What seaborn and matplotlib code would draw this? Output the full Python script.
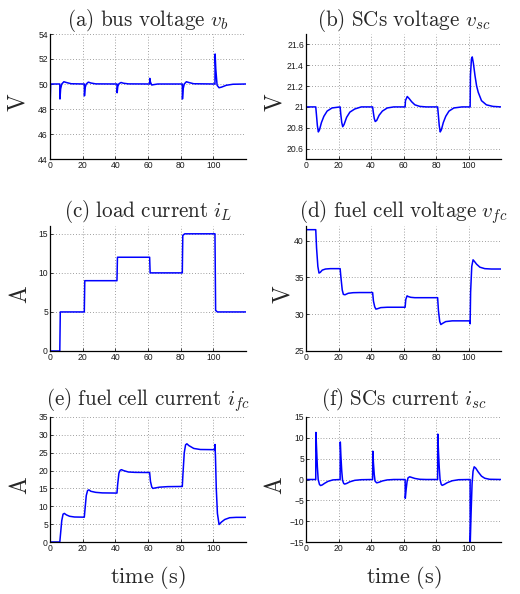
import matplotlib
matplotlib.use("Agg")
import matplotlib.pyplot as plt
import seaborn as sns
import pandas as pd

# ---------------- data ----------------
x_ticks = [0, 20, 40, 60, 80, 100]

# (a) bus voltage
t_a = [0, 0.4, 6, 6.1, 6.5, 7.2, 8.5, 10, 13, 21, 21.1, 21.5, 22.2, 23.5, 25, 28,
       41, 41.1, 41.5, 42.2, 43.5, 45, 48, 61, 61.1, 61.5, 62.3, 63.5, 66,
       81, 81.1, 81.5, 82.2, 83.5, 85, 88, 101, 101.1, 101.5, 102.3, 103.5, 105, 108, 112, 120]
v_b = [48.0, 50.0, 50.0, 48.8, 49.6, 50.0, 50.18, 50.12, 50.02, 50.0, 49.05, 49.7, 50.0, 50.15, 50.08, 50.01,
       50.0, 49.3, 49.8, 50.02, 50.12, 50.06, 50.01, 50.0, 50.45, 50.15, 49.92, 49.95, 50.0,
       50.0, 48.8, 49.6, 50.0, 50.18, 50.12, 50.02, 50.0, 52.4, 51.2, 49.9, 49.7, 49.75, 49.9, 49.98, 50.0]

# (b) SCs voltage
t_b = [0, 6, 6.4, 7.0, 7.6, 8.3, 9.5, 11, 13, 16,
       21, 21.4, 22.0, 22.6, 23.4, 25, 27, 30, 34,
       41, 41.4, 42.0, 42.6, 43.5, 45, 47, 50, 54,
       61, 61.2, 62.3, 63.5, 65, 67, 70, 74,
       81, 81.4, 82.0, 82.6, 83.3, 84.5, 86, 88, 91, 96,
       101, 101.2, 101.8, 102.3, 103, 104, 105, 106, 108, 111, 115, 120]
v_sc = [21, 21, 20.93, 20.82, 20.76, 20.78, 20.85, 20.91, 20.96, 20.99,
        21.0, 20.93, 20.85, 20.81, 20.83, 20.9, 20.95, 20.98, 21.0,
        21.0, 20.95, 20.89, 20.86, 20.87, 20.92, 20.96, 20.99, 21.0,
        21.0, 21.06, 21.1, 21.08, 21.05, 21.02, 21.005, 21.0,
        21.0, 20.93, 20.82, 20.76, 20.78, 20.85, 20.91, 20.96, 20.99, 21.0,
        21.0, 21.3, 21.46, 21.48, 21.42, 21.3, 21.2, 21.14, 21.06, 21.02, 21.005, 21.0]

# (c) load current
t_c = [0, 6, 6.3, 21, 21.3, 41, 41.3, 61, 61.3, 81, 81.3, 82.5, 101, 101.4, 102.5, 120]
i_L = [0, 0, 5, 5, 9, 9, 12, 12, 10, 10, 14.8, 15, 15, 5.2, 5, 5]

# (d) fuel cell voltage
t_d = [0, 6, 6.5, 7.3, 8.0, 8.8, 10, 12, 15,
       21, 21.5, 22.3, 23.0, 24.0, 26, 29, 33,
       41, 41.5, 42.3, 43.0, 44.0, 46, 50,
       61, 61.4, 62.2, 63.0, 64.5, 67,
       81, 81.5, 82.3, 83.0, 84.0, 86, 90,
       100.6, 101, 101.3, 102.0, 102.8, 103.6, 105, 107, 110, 114, 120]
v_fc = [41.5, 41.5, 39.0, 36.5, 35.6, 35.7, 36.0, 36.15, 36.2,
        36.2, 35.0, 33.3, 32.7, 32.65, 32.85, 32.93, 32.95,
        32.95, 31.8, 31.0, 30.7, 30.75, 30.9, 30.95,
        30.95, 32.0, 32.5, 32.4, 32.3, 32.25,
        32.25, 30.5, 29.0, 28.6, 28.75, 29.0, 29.1,
        29.1, 28.7, 33.0, 36.5, 37.4, 37.2, 36.8, 36.4, 36.2, 36.15, 36.15]

# (e) fuel cell current
t_e = [0, 6, 6.5, 7.2, 8.0, 8.8, 10, 12, 15,
       21, 21.4, 22.2, 23.0, 23.8, 25, 28, 32,
       41, 41.4, 42.2, 43.0, 43.8, 45, 48, 52,
       61, 61.5, 62.3, 63.0, 64, 67, 72,
       81, 81.4, 82.2, 83.0, 83.8, 85, 88, 92,
       100.8, 101.0, 101.3, 101.8, 102.5, 103.5, 105, 107, 110, 114, 120]
i_fc = [0, 0, 2.5, 6.0, 7.8, 8.0, 7.6, 7.2, 7.0,
        6.95, 9.0, 13.0, 14.4, 14.6, 14.2, 13.9, 13.75,
        13.7, 16.0, 19.3, 20.1, 20.25, 20.0, 19.6, 19.5,
        19.45, 17.0, 15.4, 15.0, 15.1, 15.35, 15.5,
        15.55, 19.0, 25.0, 27.2, 27.5, 27.0, 26.2, 25.9,
        25.85, 27.3, 24.0, 15.0, 8.0, 4.9, 5.6, 6.3, 6.8, 6.9, 6.9]

# (f) SCs current
t_f = [0, 0.05, 6,
       6.1, 6.5, 7.0, 7.5, 8.3, 9.0, 10.0, 11.5, 13.5, 16.5, 21,
       21.1, 21.5, 22.0, 22.5, 23.2, 23.8, 25, 27, 30, 34, 41,
       41.1, 41.5, 42.0, 42.5, 43.5, 45, 47, 50, 54, 61,
       61.1, 61.6, 62.2, 62.8, 63.8, 65, 67, 70, 74, 81,
       81.1, 81.5, 82.0, 82.5, 83.2, 83.8, 85, 87, 90, 94, 101,
       101.05, 101.6, 102.2, 102.8, 103.5, 104.5, 106, 108, 110, 113, 120]
i_sc = [-15.5, 0, 0,
        11.3, 7.5, 3.0, 0.0, -1.2, -1.45, -1.3, -0.9, -0.45, -0.1, 0,
        9.0, 5.5, 2.0, -0.2, -0.95, -1.1, -0.95, -0.55, -0.2, -0.05, 0,
        6.8, 4.0, 1.2, -0.4, -0.8, -0.65, -0.35, -0.1, 0, 0,
        -4.5, -2.5, -0.5, 0.4, 0.65, 0.5, 0.25, 0.05, 0, 0,
        10.9, 7.0, 2.8, 0.0, -1.15, -1.4, -1.2, -0.75, -0.3, -0.05, 0,
        -15.5, -8, -1, 2.0, 3.05, 2.7, 1.8, 0.8, 0.3, 0.05, 0]

titles = [r'$\mathrm{(a)\ bus\ voltage}\ v_b$',
          r'$\mathrm{(b)\ SCs\ voltage}\ v_{sc}$',
          r'$\mathrm{(c)\ load\ current}\ i_L$',
          r'$\mathrm{(d)\ fuel\ cell\ voltage}\ v_{fc}$',
          r'$\mathrm{(e)\ fuel\ cell\ current}\ i_{fc}$',
          r'$\mathrm{(f)\ SCs\ current}\ i_{sc}$']
ylabels = ['V', 'V', 'A', 'V', 'A', 'A']
ylims = [(44, 54), (20.5, 21.7), (0, 16), (25, 42), (0, 35), (-15, 15)]
yticks = [[44, 46, 48, 50, 52, 54],
          [20.6, 20.8, 21.0, 21.2, 21.4, 21.6],
          [0, 5, 10, 15],
          [25, 30, 35, 40],
          [0, 5, 10, 15, 20, 25, 30, 35],
          [-15, -10, -5, 0, 5, 10, 15]]
ytick_labels = [['44', '46', '48', '50', '52', '54'],
                ['20.6', '20.8', '21', '21.2', '21.4', '21.6'],
                ['0', '5', '10', '15'],
                ['25', '30', '35', '40'],
                ['0', '5', '10', '15', '20', '25', '30', '35'],
                ['\u221215', '\u221210', '\u22125', '0', '5', '10', '15']]
series = [(t_a, v_b), (t_b, v_sc), (t_c, i_L), (t_d, v_fc), (t_e, i_fc), (t_f, i_sc)]

# ---------------- style ----------------
sns.set_style("white")
plt.rcParams['font.family'] = ['Liberation Sans', 'DejaVu Sans']
plt.rcParams['mathtext.fontset'] = 'cm'

W, H = 520, 594
fig = plt.figure(figsize=(W / 100, H / 100), dpi=100)

lefts = [50, 306]
widths = [196, 195]
tops = [34, 226, 417]
ah = 125
title_pads = [5.5, 6.5, 8.5]
ylabel_x = [-0.105, -0.10, -0.09, -0.06, -0.09, -0.10]

for k, (tt, yy) in enumerate(series):
    r, c = divmod(k, 2)
    ax = fig.add_axes([lefts[c] / W, 1 - (tops[r] + ah) / H, widths[c] / W, ah / H])
    df = pd.DataFrame({'t': tt, 'y': yy})
    sns.lineplot(data=df, x='t', y='y', ax=ax, color='#0000ff', linewidth=1.1,
                 estimator=None, sort=False)
    ax.set_xlim(0, 120)
    ax.set_ylim(*ylims[k])
    ax.set_xticks(x_ticks)
    ax.set_xticklabels([str(v) for v in x_ticks])
    ax.set_yticks(yticks[k])
    ax.set_yticklabels(ytick_labels[k])
    ax.tick_params(axis='both', labelsize=6.2, direction='in', length=2.5, width=0.6,
                   colors='#1a1a1a', pad=1.5, left=True, bottom=True)
    ax.grid(True, color='#808080', linestyle=(0, (1, 2.4)), linewidth=0.6)
    for s in ['top', 'right']:
        ax.spines[s].set_visible(False)
    for s in ['left', 'bottom']:
        ax.spines[s].set_color('black')
        ax.spines[s].set_linewidth(0.9)
    ax.set_title(titles[k], fontsize=15.2, pad=title_pads[r])
    ax.set_ylabel(r'$\mathrm{' + ylabels[k] + '}$', fontsize=17)
    ax.yaxis.set_label_coords(ylabel_x[k], 0.45)
    if r == 2:
        ax.set_xlabel(r'$\mathrm{time\ (s)}$', fontsize=16)
        ax.xaxis.set_label_coords(0.5, -0.175)
    else:
        ax.set_xlabel('')

fig.savefig('out.png', dpi=100, facecolor='white')
